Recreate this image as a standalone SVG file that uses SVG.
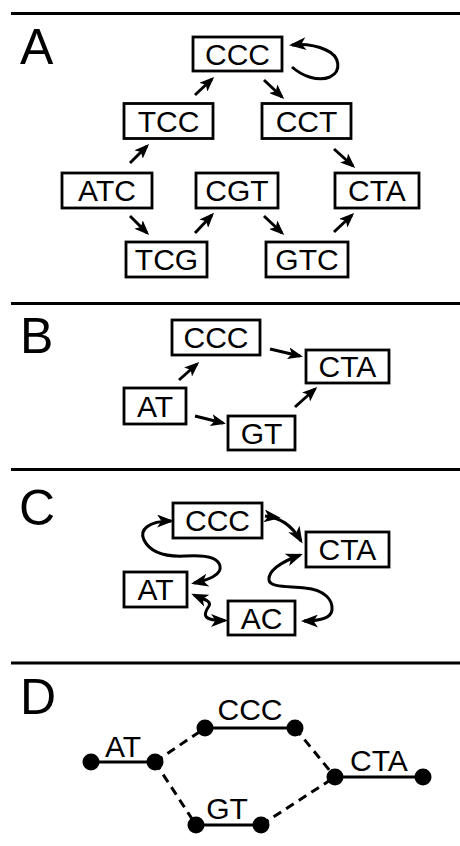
<svg xmlns="http://www.w3.org/2000/svg" width="460" height="846" viewBox="0 0 460 846">
<style>
  .sep { stroke:#000; stroke-width:3; }
  .box { fill:#fff; stroke:#000; stroke-width:2.8; }
  .lbl { font-family:"Liberation Sans", Arial, sans-serif; font-size:30px; text-anchor:middle; fill:#000; }
  .panel { font-family:"Liberation Sans", Arial, sans-serif; font-size:50px; fill:#000; }
  .arr { fill:none; stroke:#000; stroke-width:3; marker-end:url(#ha); }
  .wav { fill:none; stroke:#000; stroke-width:3; }
  .solid { stroke:#000; stroke-width:3; }
  .dash { stroke:#000; stroke-width:3; stroke-dasharray:9 6; }
  .dot { fill:#000; }
</style>
<defs>
  <marker id="ha" markerUnits="userSpaceOnUse" viewBox="0 0 15 12" markerWidth="15" markerHeight="12" refX="12" refY="6" orient="auto">
    <path d="M0,0 L15,6 L0,12 L3.5,6 z" fill="#000"/>
  </marker>
  <marker id="hb" markerUnits="userSpaceOnUse" viewBox="0 0 17 13" markerWidth="17" markerHeight="13" refX="14" refY="6.5" orient="auto-start-reverse">
    <path d="M0,0 L17,6.5 L0,13 L4.5,6.5 z" fill="#000"/>
  </marker>
  <marker id="ht" markerUnits="userSpaceOnUse" viewBox="0 0 17 13" markerWidth="17" markerHeight="13" refX="1" refY="6.5" orient="auto">
    <path d="M0,0 L17,6.5 L0,13 L4.5,6.5 z" fill="#000"/>
  </marker>
</defs>
<rect width="460" height="846" fill="#fff"/>

<g id="separators">
  <line class="sep" x1="11" y1="13.5" x2="460" y2="13.5"/>
  <line class="sep" x1="11" y1="303.5" x2="460" y2="303.5"/>
  <line class="sep" x1="11" y1="469.5" x2="460" y2="469.5"/>
  <line class="sep" x1="11" y1="663" x2="460" y2="663"/>
</g>

<g id="panel-labels">
  <text class="panel" x="20" y="64">A</text>
  <text class="panel" x="20" y="353">B</text>
  <text class="panel" x="19" y="525">C</text>
  <text class="panel" x="20" y="714">D</text>
</g>

<!-- Panel A -->
<g id="panelA">
  <g id="A-CCC"><rect class="box" x="193" y="37" width="89" height="34"/><text class="lbl" x="237.5" y="64.5">CCC</text></g>
  <g id="A-TCC"><rect class="box" x="124" y="103.5" width="89" height="35"/><text class="lbl" x="168.5" y="131.5">TCC</text></g>
  <g id="A-CCT"><rect class="box" x="262" y="103.5" width="89" height="35"/><text class="lbl" x="306.5" y="131.5">CCT</text></g>
  <g id="A-ATC"><rect class="box" x="62" y="173" width="90" height="35"/><text class="lbl" x="107" y="201">ATC</text></g>
  <g id="A-CGT"><rect class="box" x="196" y="173" width="82" height="35"/><text class="lbl" x="237" y="201">CGT</text></g>
  <g id="A-CTA"><rect class="box" x="335" y="173" width="84" height="35"/><text class="lbl" x="377" y="201">CTA</text></g>
  <g id="A-TCG"><rect class="box" x="126" y="242" width="81" height="35"/><text class="lbl" x="166.5" y="270">TCG</text></g>
  <g id="A-GTC"><rect class="box" x="266" y="242" width="82" height="35"/><text class="lbl" x="307" y="270">GTC</text></g>
</g>

<!-- Panel B -->
<g id="panelB">
  <g id="B-CCC"><rect class="box" x="172" y="320" width="88" height="35"/><text class="lbl" x="216" y="348">CCC</text></g>
  <g id="B-CTA"><rect class="box" x="306" y="350" width="83" height="33"/><text class="lbl" x="347.5" y="377">CTA</text></g>
  <g id="B-AT"><rect class="box" x="124" y="388" width="62" height="36"/><text class="lbl" x="155" y="416.5">AT</text></g>
  <g id="B-GT"><rect class="box" x="228" y="416" width="67" height="34"/><text class="lbl" x="261.5" y="443.5">GT</text></g>
</g>

<!-- Panel C -->
<g id="panelC">
  <g id="C-CCC"><rect class="box" x="173" y="503" width="89" height="35"/><text class="lbl" x="217.5" y="531">CCC</text></g>
  <g id="C-CTA"><rect class="box" x="306" y="532" width="83" height="35"/><text class="lbl" x="347.5" y="560">CTA</text></g>
  <g id="C-AT"><rect class="box" x="124" y="572" width="63" height="35"/><text class="lbl" x="155.5" y="600">AT</text></g>
  <g id="C-AC"><rect class="box" x="228" y="601" width="67" height="34"/><text class="lbl" x="261.5" y="628.5">AC</text></g>
</g>

<!-- Panel D -->
<g id="panelD">
  <g id="D-AT"><line class="solid" x1="91" y1="762" x2="155" y2="762"/><circle class="dot" cx="91" cy="762" r="8.5"/><circle class="dot" cx="155" cy="762" r="8.5"/><text class="lbl" x="123" y="757">AT</text></g>
  <g id="D-CCC"><line class="solid" x1="205" y1="728" x2="295" y2="728"/><circle class="dot" cx="205" cy="728" r="8.5"/><circle class="dot" cx="295" cy="728" r="8.5"/><text class="lbl" x="250" y="720">CCC</text></g>
  <g id="D-CTA"><line class="solid" x1="335" y1="777" x2="423" y2="777"/><circle class="dot" cx="335" cy="777" r="8.5"/><circle class="dot" cx="423" cy="777" r="8.5"/><text class="lbl" x="379" y="771">CTA</text></g>
  <g id="D-GT"><line class="solid" x1="196" y1="825" x2="261" y2="825"/><circle class="dot" cx="196" cy="825" r="8.5"/><circle class="dot" cx="261" cy="825" r="8.5"/><text class="lbl" x="227" y="819">GT</text></g>
</g>

<g id="connectors">
  <!-- A -->
  <line class="arr" x1="195" y1="95" x2="212" y2="79"/>
  <line class="arr" x1="264" y1="80" x2="282" y2="97"/>
  <line class="arr" x1="130" y1="163" x2="147" y2="146"/>
  <line class="arr" x1="130" y1="216" x2="147" y2="233"/>
  <line class="arr" x1="195" y1="233" x2="212" y2="215"/>
  <line class="arr" x1="264" y1="216" x2="282" y2="233"/>
  <line class="arr" x1="334" y1="232" x2="352" y2="215"/>
  <line class="arr" x1="334" y1="149" x2="353" y2="166"/>
  <path class="wav" marker-end="url(#hb)" d="M 292 67 C 302 76, 318 82, 330 77 C 342 71, 340 56, 326 50 C 315 45, 302 44, 292 45"/>
  <!-- B -->
  <line class="arr" x1="179" y1="380" x2="197" y2="364"/>
  <line class="arr" x1="270" y1="349" x2="300" y2="356"/>
  <line class="arr" x1="195" y1="416" x2="223" y2="423"/>
  <line class="arr" x1="295" y1="407" x2="315" y2="389"/>
  <!-- C -->
  <path class="wav" marker-start="url(#hb)" marker-end="url(#hb)" d="M 194 583 C 208 580, 222 575, 220 566 C 218 556, 200 555, 185 556 C 165 557, 150 552, 144 540 C 139 530, 148 521, 171 521"/>
  <path class="wav" marker-start="url(#hb)" marker-end="url(#hb)" d="M 194 595 C 203 599, 212 601, 209 606 C 205 612, 203 617, 210 619 C 215 620.5, 219 620.5, 225 620.5"/>
  <path class="wav" marker-start="url(#ht)" marker-end="url(#hb)" d="M 265 516 C 280 518, 291 524, 301 541"/>
  <path class="wav" marker-start="url(#hb)" marker-end="url(#hb)" d="M 300 555 C 284 561, 268 570, 269 580 C 270 588, 290 586, 305 588 C 325 590, 333 600, 332 610 C 331 619, 318 621, 304 621"/>
  <!-- D -->
  <line class="dash" x1="155" y1="762" x2="205" y2="728"/>
  <line class="dash" x1="155" y1="762" x2="196" y2="825"/>
  <line class="dash" x1="295" y1="728" x2="335" y2="777"/>
  <line class="dash" x1="261" y1="825" x2="335" y2="777"/>
</g>
</svg>
